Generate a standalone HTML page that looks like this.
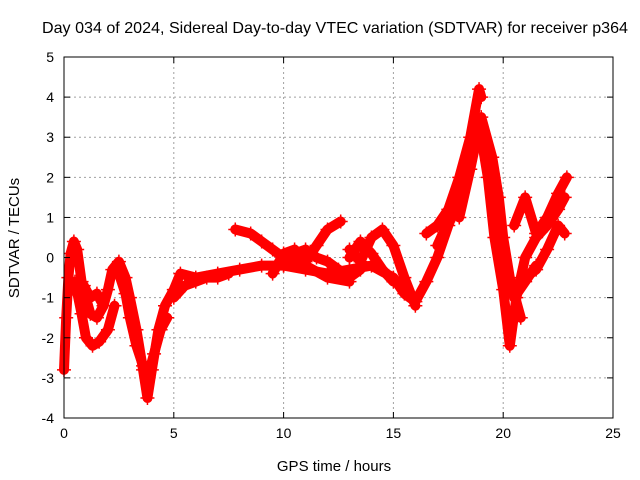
<!DOCTYPE html>
<html><head><meta charset="utf-8"><style>
body{margin:0;background:#fff;}
svg{display:block;font-family:"Liberation Sans",sans-serif;}
</style></head><body>
<svg id="chart" width="640" height="480">
<rect width="640" height="480" fill="#fff"/>
<text x="335" y="33" font-size="16" text-anchor="middle" textLength="586" lengthAdjust="spacingAndGlyphs">Day 034 of 2024, Sidereal Day-to-day VTEC variation (SDTVAR) for receiver p364</text>
<text x="334" y="471" font-size="15" text-anchor="middle">GPS time / hours</text>
<text x="19" y="238" font-size="15" text-anchor="middle" transform="rotate(-90 19 238)">SDTVAR / TECUs</text>
<g id="grid"></g><g id="marks"></g><g id="axes"></g>
</svg>
<script>
const xTicks=[0,5,10,15,20,25];
const yTicks=[-4,-3,-2,-1,0,1,2,3,4,5];
const trackMain_t=[0,0.1,0.2,0.3,0.45,0.6,0.8,1.0,1.2,1.5,1.8,2.0,2.2,2.5,2.8,3.0,3.3,3.6,3.8,4.0,4.3,4.6,5.0,5.3,6,7,8,9,10,11,12,13,14,15,15.5,16,16.5,17,17.5,18,18.5,19,19.3,19.6,20,20.3,20.6,21,21.5,22,22.5,22.8];
const trackMain_v=[-2.8,-1.5,-0.5,0.1,0.4,0.2,-0.6,-1.0,-1.4,-1.5,-1.2,-0.8,-0.3,-0.1,-0.5,-1.0,-1.8,-2.8,-3.5,-2.8,-1.8,-1.2,-0.8,-0.4,-0.5,-0.4,-0.3,-0.2,-0.2,-0.3,-0.4,-0.3,-0.2,-0.5,-0.9,-1.1,-0.6,0.0,0.8,1.5,2.5,3.0,2.0,0.5,-0.8,-2.2,-1.0,0.0,0.5,0.8,1.2,1.5];
const trackB_t=[0.5,0.8,1.0,1.3,1.6,2.0,2.3];
const trackB_v=[-0.6,-1.4,-2.0,-2.2,-2.1,-1.8,-1.2];
const trackC_t=[2.5,2.8,3.0,3.3,3.6,3.8,4.1,4.4,4.7];
const trackC_v=[-0.4,-0.9,-1.5,-2.2,-2.7,-3.0,-2.4,-1.8,-1.5];
const trackD_t=[7.8,8.5,9.0,9.5,10,11,12,13];
const trackD_v=[0.7,0.6,0.4,0.2,0.0,-0.2,-0.5,-0.6];
const trackE_t=[9.5,10,10.5,11,11.5,12,12.6];
const trackE_v=[-0.4,0.1,0.2,-0.1,0.3,0.7,0.9];
const trackF_t=[10,10.5,11,11.5,12,12.5,13,13.5];
const trackF_v=[-0.2,0.1,0.2,0.0,-0.1,-0.3,-0.5,-0.3];
const trackG_t=[13,13.5,14,14.5,15,15.5,16];
const trackG_v=[0.2,-0.1,0.5,0.7,0.3,-0.5,-1.2];
const trackH_t=[13,13.5,14,14.5,15];
const trackH_v=[0.0,0.4,0.1,-0.3,-0.6];
const trackI_t=[16.5,17,17.5,18,18.5,18.9,19.0];
const trackI_v=[0.6,0.8,1.2,2.0,3.0,4.2,4.0];
const trackJ_t=[18,18.5,19,19.5,19.8,20,20.3,20.8];
const trackJ_v=[1.0,2.2,3.5,2.5,1.5,0.5,-0.5,-1.5];
const trackK_t=[19.5,20,20.5,21,21.5];
const trackK_v=[2.0,0.0,-1.0,-0.6,-0.2];
const trackL_t=[20.5,21,21.5,22,22.5,22.9];
const trackL_v=[0.8,1.5,0.6,1.0,1.6,2.0];
const trackM_t=[21,21.5,22,22.5,22.8];
const trackM_v=[-0.5,-0.3,0.2,0.8,0.6];
const trackN_t=[0.6,0.9,1.2,1.5,1.8];
const trackN_v=[-0.9,-0.7,-1.0,-0.9,-1.2];
const trackO_t=[5.0,5.5,6.0,6.5,7.0,7.5];
const trackO_v=[-1.0,-0.7,-0.6,-0.5,-0.5,-0.4];
const trackP_t=[17.0,17.5,18.0,18.3,18.7];
const trackP_v=[0.3,0.9,1.8,2.4,2.8];
const tracks=[[trackMain_t,trackMain_v],[trackB_t,trackB_v],[trackC_t,trackC_v],[trackD_t,trackD_v],[trackE_t,trackE_v],[trackF_t,trackF_v],[trackG_t,trackG_v],[trackH_t,trackH_v],[trackI_t,trackI_v],[trackJ_t,trackJ_v],[trackK_t,trackK_v],[trackL_t,trackL_v],[trackM_t,trackM_v],[trackN_t,trackN_v],[trackO_t,trackO_v],[trackP_t,trackP_v]];
const L=64,R=613,T=57,B=418;
const xs=t=>L+(t-0)/25*(R-L);
const ys=v=>B-(v+4)/9*(B-T);
const NS="http://www.w3.org/2000/svg";
function mk(tag,attrs,parent){const e=document.createElementNS(NS,tag);for(const k in attrs)e.setAttribute(k,attrs[k]);parent.appendChild(e);return e;}
const grid=document.getElementById('grid'),axes=document.getElementById('axes'),marks=document.getElementById('marks');
xTicks.forEach(t=>{const x=xs(t);
 if(t>0&&t<25){const g=mk('line',{x1:x,x2:x,y1:T,y2:B,stroke:'#a0a0a0','stroke-dasharray':'2,3'},grid);}
 mk('line',{x1:x,x2:x,y1:B,y2:B-6,stroke:'#000'},axes);mk('line',{x1:x,x2:x,y1:T,y2:T+6,stroke:'#000'},axes);
 const lb=mk('text',{x:x,y:B+20,'font-size':14,'text-anchor':'middle'},axes);lb.textContent=t;
 });
yTicks.forEach(v=>{const y=ys(v);
 if(v>-4&&v<5){const g=mk('line',{x1:L,x2:R,y1:y,y2:y,stroke:'#a0a0a0','stroke-dasharray':'2,3'},grid);}
 mk('line',{x1:L,x2:L+6,y1:y,y2:y,stroke:'#000'},axes);mk('line',{x1:R,x2:R-6,y1:y,y2:y,stroke:'#000'},axes);
 const lb=mk('text',{x:L-10,y:y+5,'font-size':14,'text-anchor':'end'},axes);lb.textContent=v;
 });
const fr=mk('rect',{x:L,y:T,width:R-L,height:B-T,fill:'none',stroke:'#000'},axes);

tracks.forEach(([ts,vs])=>{
 const pts=ts.map((t,i)=>xs(t)+','+ys(vs[i])).join(' ');
 const pl=mk('polyline',{points:pts,fill:'none',stroke:'#ff0000','stroke-width':10,'stroke-linejoin':'round','stroke-linecap':'round'},marks);
 
 ts.forEach((t,i)=>{const x=xs(t),y=ys(vs[i]);
  const p=mk('path',{d:`M${x-7},${y}H${x+7}M${x},${y-7}V${y+7}`,stroke:'#ff0000','stroke-width':1.5},marks);
  });
});
</script>
</body></html>
